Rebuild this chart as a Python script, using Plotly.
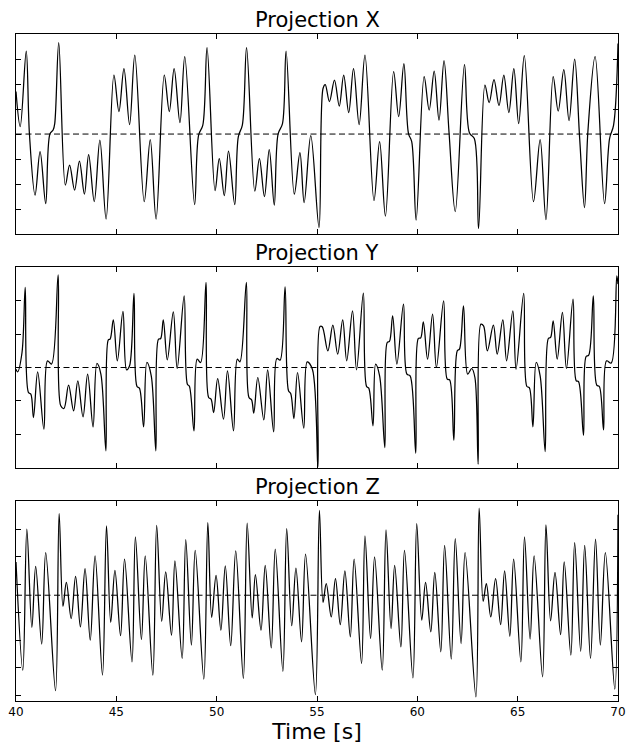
import plotly.graph_objects as go
from plotly.subplots import make_subplots

# Turning points of the three projections (time in s, value)
t_x = [40.00, 40.21, 40.51, 40.67, 40.95, 41.20, 41.48, 41.69, 41.85, 41.93, 42.13, 42.46, 42.67, 42.92,
       43.16, 43.41, 43.62, 43.90, 44.18, 44.49, 44.88, 45.13, 45.38, 45.66, 45.92, 46.39, 46.69, 46.98,
       47.39, 47.64, 47.88, 48.17, 48.41, 48.90, 49.10, 49.31, 49.52, 49.92, 50.13, 50.38, 50.59, 50.90,
       51.08, 51.28, 51.49, 51.90, 52.13, 52.38, 52.62, 52.87, 53.06, 53.28, 53.46, 53.87, 54.15, 54.36,
       54.69, 55.10, 55.30, 55.41, 55.62, 55.87, 56.11, 56.33, 56.58, 56.82, 57.10, 57.39, 57.84, 58.12,
       58.41, 58.82, 59.07, 59.33, 59.56, 59.72, 59.94, 60.34, 60.59, 60.84, 61.08, 61.33, 61.58, 61.89,
       62.35, 62.60, 62.84, 63.05, 63.37, 63.58, 63.82, 64.07, 64.31, 64.56, 64.81, 65.05, 65.33, 65.79,
       66.12, 66.41, 66.77, 67.02, 67.30, 67.56, 67.84, 68.09, 68.33, 68.50, 68.86, 69.33, 69.58, 69.78,
       70.00]
x_vals = [8.5, 1.5, 16.6, 0.0, -12.2, -3.5, -13.9, 0.0, 0.8, 2.1, 18.3, -10.2, -6.2, -11.2,
          -5.4, -12.0, -4.1, -13.5, -1.2, -17.0, 11.8, 4.5, 13.1, 1.9, 15.8, -13.5, -1.1, -17.0,
          11.8, 4.5, 13.1, 2.3, 15.5, -14.1, -0.2, 1.8, 17.3, -11.3, -4.9, -12.3, -3.4, -14.1,
          -0.5, 1.8, 17.3, -11.4, -4.9, -12.5, -3.1, -14.2, 0.0, 2.1, 16.6, -12.0, -3.7, -13.7,
          -0.3, -18.7, 9.1, 9.9, 6.5, 10.8, 5.6, 11.8, 4.3, 13.1, 1.9, 15.8, -13.3, -1.5,
          -16.4, 12.5, 3.5, 14.1, 0.1, -1.5, -17.2, 11.5, 4.8, 12.6, 2.8, 14.7, 0.3, -15.5,
          13.9, 0.2, -0.9, -18.9, 9.8, 6.3, 10.9, 5.7, 11.8, 4.3, 13.1, 2.1, 15.7, -13.5,
          -1.1, -17.1, 11.5, 4.6, 12.9, 2.7, 15.0, -0.9, -14.7, 0.5, 15.5, -13.9, -0.9, 1.8,
          18.1]

t_y = [40.00, 40.08, 40.30, 40.46, 40.62, 40.74, 40.87, 41.08, 41.39, 41.57, 41.77, 42.10, 42.23, 42.39,
       42.62, 42.87, 43.08, 43.34, 43.57, 43.84, 44.03, 44.23, 44.48, 44.60, 44.69, 44.85, 45.05, 45.33,
       45.51, 45.66, 45.88, 46.03, 46.15, 46.36, 46.52, 46.74, 46.97, 47.10, 47.21, 47.34, 47.54, 47.84,
       48.03, 48.38, 48.54, 48.64, 48.87, 49.03, 49.20, 49.47, 49.60, 49.72, 49.85, 50.05, 50.34, 50.54,
       50.84, 51.03, 51.16, 51.48, 51.61, 51.74, 51.85, 52.05, 52.35, 52.54, 52.84, 53.00, 53.16, 53.41,
       53.58, 53.69, 53.85, 54.03, 54.34, 54.51, 54.77, 55.05, 55.15, 55.26, 55.54, 55.79, 56.03, 56.28,
       56.48, 56.77, 56.97, 57.31, 57.47, 57.58, 57.79, 57.92, 58.12, 58.38, 58.50, 58.61, 58.77, 58.98,
       59.31, 59.48, 59.64, 59.92, 60.05, 60.17, 60.30, 60.51, 60.76, 60.95, 61.31, 61.49, 61.61, 61.82,
       61.99, 62.10, 62.30, 62.51, 62.71, 62.87, 63.03, 63.17, 63.30, 63.49, 63.79, 63.98, 64.26, 64.45,
       64.76, 64.92, 65.30, 65.46, 65.58, 65.76, 65.92, 66.12, 66.37, 66.53, 66.64, 66.77, 66.97, 67.23,
       67.43, 67.76, 67.92, 68.03, 68.28, 68.41, 68.54, 68.77, 68.94, 69.07, 69.28, 69.43, 69.66, 69.94,
       70.00]
y_vals = [-0.5, -1.3, 4.5, 24.0, -7.5, -8.0, -15.0, -1.3, -18.5, 2.0, 1.0, 27.8, -11.5, -12.3,
          -5.3, -13.0, -4.0, -14.8, -2.0, -17.8, 1.2, -2.0, -25.0, 8.3, 8.5, 14.3, 2.0, 16.8,
          -0.7, 0.5, 22.2, -5.7, -6.2, -17.8, 1.5, -2.5, -25.0, 8.5, 8.7, 14.3, 2.3, 16.7,
          -0.3, 21.5, -5.0, -5.6, -19.0, 2.5, 1.5, 25.5, -9.0, -9.5, -13.5, -3.3, -15.5, -1.0,
          -19.0, 2.5, 1.7, 25.5, -9.0, -9.7, -13.7, -3.0, -15.7, -0.7, -19.3, 2.7, 2.2, 24.2,
          -7.0, -7.8, -15.3, -1.5, -18.2, 1.7, -0.5, -29.7, 12.3, 12.2, 5.0, 12.7, 4.0, 14.3,
          2.0, 17.0, -0.7, 22.3, -5.7, -6.2, -17.5, 1.0, -2.5, -24.0, 7.5, 7.8, 15.5, 1.0,
          19.0, -2.0, -2.5, -25.7, 8.7, 8.9, 13.7, 2.5, 16.0, 0.0, 20.0, -3.5, -3.7, -21.8,
          5.0, 5.5, 18.5, -2.0, -0.3, -3.0, -29.0, 13.0, 12.5, 5.0, 12.7, 4.0, 14.3, 2.0,
          17.0, -0.5, 22.2, -5.7, -6.0, -17.8, 1.5, -2.5, -25.2, 8.7, 9.0, 14.0, 2.5, 16.5,
          -0.3, 20.5, -4.0, -4.2, -20.3, 3.3, 3.7, 21.5, -5.3, -5.7, -18.7, 2.0, 1.3, 27.5,
          25.0]

t_z = [40.00, 40.34, 40.54, 40.79, 40.98, 41.28, 41.48, 41.97, 42.15, 42.34, 42.51, 42.75, 42.97, 43.21,
       43.44, 43.70, 43.94, 44.31, 44.51, 44.72, 44.93, 45.21, 45.41, 45.78, 45.95, 46.25, 46.44, 46.82,
       47.01, 47.26, 47.46, 47.75, 47.92, 48.28, 48.46, 48.74, 48.93, 49.36, 49.56, 49.75, 49.97, 50.21,
       50.43, 50.70, 50.95, 51.33, 51.52, 51.77, 51.93, 52.21, 52.42, 52.72, 52.92, 53.30, 53.49, 53.74,
       53.95, 54.23, 54.43, 54.92, 55.12, 55.30, 55.46, 55.71, 55.92, 56.16, 56.39, 56.66, 56.85, 57.22,
       57.39, 57.67, 57.87, 58.25, 58.44, 58.69, 58.87, 59.18, 59.36, 59.78, 59.97, 60.22, 60.41, 60.67,
       60.87, 61.17, 61.36, 61.69, 61.89, 62.18, 62.38, 62.92, 63.08, 63.28, 63.44, 63.66, 63.90, 64.15,
       64.35, 64.61, 64.80, 65.16, 65.34, 65.62, 65.82, 66.24, 66.41, 66.64, 66.86, 67.14, 67.32, 67.65,
       67.84, 68.14, 68.34, 68.63, 68.88, 69.12, 69.37, 69.84, 70.00]
z_vals = [34.1, 14.6, 40.0, 22.3, 33.3, 19.3, 35.8, 10.9, 42.8, 26.1, 30.4, 23.9, 31.5, 22.4,
          32.9, 20.0, 35.2, 13.7, 40.6, 23.2, 32.6, 20.8, 34.6, 16.1, 38.6, 20.1, 35.2, 13.7,
          40.7, 23.4, 32.3, 20.9, 34.3, 16.7, 38.1, 19.1, 36.2, 13.0, 41.2, 24.1, 31.7, 21.8,
          33.4, 19.0, 36.1, 13.1, 41.1, 24.0, 31.8, 21.8, 33.5, 18.6, 36.4, 14.4, 40.1, 22.6,
          33.0, 19.7, 35.5, 10.2, 43.4, 26.8, 30.2, 24.2, 31.1, 22.8, 32.5, 20.6, 34.6, 15.8,
          38.8, 20.3, 35.0, 14.6, 39.9, 22.1, 33.5, 18.8, 36.2, 13.2, 41.0, 23.6, 30.4, 21.5,
          32.2, 17.9, 37.1, 16.6, 38.3, 19.4, 35.8, 9.8, 43.8, 27.0, 30.2, 24.2, 31.1, 22.8,
          32.5, 20.7, 34.6, 16.1, 38.6, 20.2, 35.2, 13.4, 40.8, 23.5, 32.2, 21.0, 34.1, 17.3,
          37.6, 18.0, 37.1, 16.7, 38.2, 19.1, 35.8, 11.2, 42.6]

# Reference levels drawn as dashed lines
x_level = 0.0
y_level = 0.0
z_level = 28.1

titles = ["Projection X", "Projection Y", "Projection Z"]
x_ticks = [40, 45, 50, 55, 60, 65, 70]

fig = make_subplots(rows=3, cols=1, shared_xaxes=False, vertical_spacing=0.05,
                    subplot_titles=titles)

series = [(t_x, x_vals, x_level), (t_y, y_vals, y_level), (t_z, z_vals, z_level)]
for i, (tt, vv, lvl) in enumerate(series, start=1):
    fig.add_trace(go.Scatter(x=tt, y=vv, mode="lines",
                             line=dict(color="black", width=1.25, shape="spline", smoothing=1.0),
                             showlegend=False, hoverinfo="skip"), row=i, col=1)
    fig.add_trace(go.Scatter(x=[40, 70], y=[lvl, lvl], mode="lines",
                             line=dict(color="black", width=1, dash="6px,3.5px"),
                             showlegend=False, hoverinfo="skip"), row=i, col=1)

axis_common = dict(showline=True, linecolor="black", linewidth=1, mirror="ticks",
                   ticks="inside", ticklen=5, tickcolor="black", showgrid=False, zeroline=False)

for i in range(1, 4):
    fig.update_xaxes(range=[40, 70], tickvals=x_ticks, showticklabels=(i == 3),
                     tickfont=dict(size=12, color="black"), **axis_common, row=i, col=1)

fig.update_yaxes(range=[-20, 20], tickvals=[-15, -10, -5, 0, 5, 10, 15], showticklabels=False,
                 **axis_common, row=1, col=1)
fig.update_yaxes(range=[-30, 30], tickvals=[-20, -10, 0, 10, 20], showticklabels=False,
                 **axis_common, row=2, col=1)
fig.update_yaxes(range=[9.04, 45.1], tickvals=[10, 15, 20, 25, 30, 35, 40], showticklabels=False,
                 **axis_common, row=3, col=1)

fig.update_xaxes(title=dict(text="Time [s]", font=dict(size=22, color="black"), standoff=4),
                 row=3, col=1)

for ann in fig.layout.annotations:
    ann.font = dict(size=21, color="black")

fig.update_layout(width=634, height=747,
                  margin=dict(l=16, r=8, t=34, b=46),
                  paper_bgcolor="white", plot_bgcolor="white",
                  font=dict(family="DejaVu Sans", color="black"))

fig.write_html("out.html")
